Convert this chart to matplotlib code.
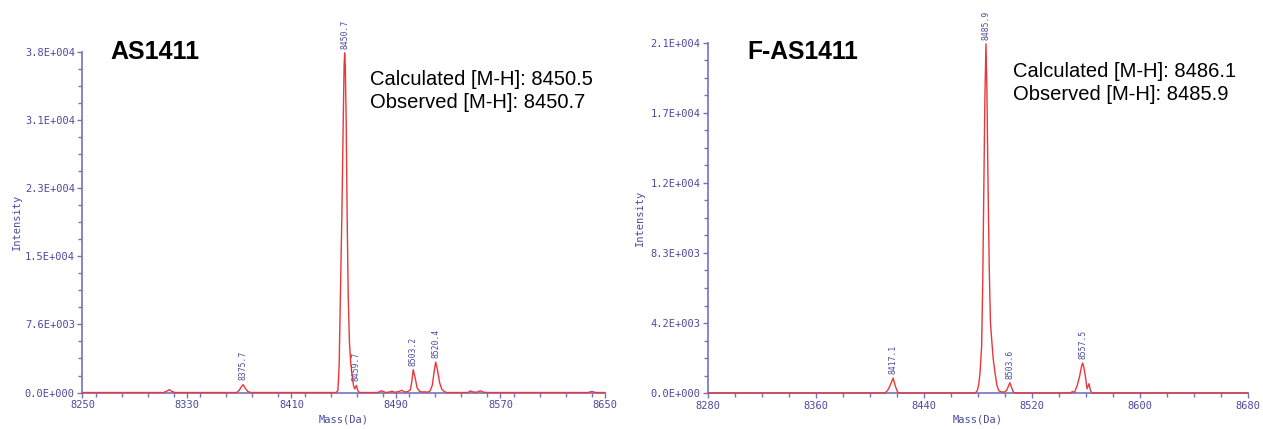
import numpy as np
import matplotlib
matplotlib.use("Agg")
import matplotlib.pyplot as plt
from matplotlib.ticker import FixedLocator, MultipleLocator

# --- data (mass in Da, intensity in counts) ---
as_mass = [8250, 8312, 8314.5, 8316.5, 8318.5, 8321,
           8368, 8370, 8371.5, 8373, 8374.5, 8376.5, 8379,
           8444, 8445.5, 8446.5, 8447.6, 8448.6, 8449.6, 8450.3, 8450.7, 8451.2,
           8451.9, 8452.6, 8453.4, 8454.4, 8455.4, 8456.3, 8457.5, 8458.4, 8459.7,
           8460.8, 8462, 8476, 8479, 8482, 8485, 8487, 8489, 8492, 8494.5, 8496.5,
           8499, 8501, 8502.2, 8503.2, 8504.6, 8506.2, 8508, 8510, 8512, 8514,
           8516, 8517.8, 8519.2, 8520.4, 8521.8, 8523.4, 8525, 8527, 8529,
           8545, 8547, 8549, 8552, 8554.5, 8557, 8560, 8637, 8640, 8643, 8650]
as_int = [0, 0, 150, 320, 120, 0,
          0, 250, 620, 880, 500, 120, 0,
          0, 200, 3000, 12000, 20000, 30000, 36500, 37900, 36500,
          30000, 20000, 11000, 5500, 3200, 2100, 780, 400, 800,
          200, 0, 0, 200, 0, 60, 150, 30, 100, 250, 60,
          100, 300, 1300, 2550, 1700, 500, 150, 60, 80, 40,
          150, 800, 2300, 3400, 2500, 1100, 400, 100, 0,
          0, 180, 60, 40, 200, 40, 0, 0, 120, 0, 0]

fas_mass = [8280, 8411, 8413, 8414.5, 8416, 8417.1, 8418.8, 8420.5, 8422,
            8478, 8479.5, 8480.5, 8481.5, 8482.7, 8483.5, 8484.3, 8485.1, 8485.9,
            8486.6, 8487.4, 8488.3, 8489.2, 8490.3, 8491.3, 8492.6, 8494, 8495.5,
            8497.5, 8499.5, 8501.2, 8502.5, 8503.6, 8504.8, 8506.2, 8508,
            8548, 8550, 8551.5, 8553.5, 8555.3, 8556.6, 8557.5, 8558.5, 8559.7,
            8560.8, 8562.2, 8563.3, 8564.5, 8680]
fas_int = [0, 0, 150, 380, 650, 880, 400, 50, 0,
           0, 150, 480, 1200, 2800, 6500, 12000, 17500, 20700,
           18000, 12500, 7500, 4200, 3000, 2000, 1200, 450, 130,
           60, 60, 150, 400, 610, 350, 50, 0,
           0, 80, 40, 450, 1000, 1550, 1780, 1500, 900,
           250, 550, 150, 0, 0]

# labelled peaks: (label, mass, intensity)
as_peaks = [("8375.7", 8373, 880), ("8450.7", 8450.7, 37900), ("8459.7", 8459.7, 800),
            ("8503.2", 8503.2, 2550), ("8520.4", 8520.4, 3400)]
fas_peaks = [("8417.1", 8417.1, 880), ("8485.9", 8485.9, 20700),
             ("8503.6", 8503.6, 610), ("8557.5", 8557.5, 1780)]

as_yticks = [0, 7600, 15200, 22800, 30400, 38000]
as_ylabels = ["0.0E+000", "7.6E+003", "1.5E+004", "2.3E+004", "3.1E+004", "3.8E+004"]
fas_yticks = [0, 4150, 8300, 12450, 16600, 20750]
fas_ylabels = ["0.0E+000", "4.2E+003", "8.3E+003", "1.2E+004", "1.7E+004", "2.1E+004"]

as_xticks = [8250, 8330, 8410, 8490, 8570, 8650]
fas_xticks = [8280, 8360, 8440, 8520, 8600, 8680]

AXCOL = "#7373bb"
TXTCOL = "#4a4a9e"
LINECOL = "#e8383a"
MONO = "DejaVu Sans Mono"

fig = plt.figure(figsize=(12.63, 4.29), dpi=100)
axL = fig.add_axes([0.0653, 0.085, 0.4137, 0.7938])
axR = fig.add_axes([0.5606, 0.0839, 0.4275, 0.8159])


def style(ax, mass, inten, xticks, yticks, ylabels, ymin_step, peaks):
    ax.plot(mass, inten, color=LINECOL, lw=1.0, clip_on=False, zorder=3)
    ax.set_xlim(xticks[0], xticks[-1])
    ax.set_ylim(0, yticks[-1])
    for s in ["top", "right"]:
        ax.spines[s].set_visible(False)
    for s in ["left", "bottom"]:
        ax.spines[s].set_color(AXCOL)
        ax.spines[s].set_linewidth(1.2)
    ax.xaxis.set_major_locator(FixedLocator(xticks))
    ax.xaxis.set_minor_locator(MultipleLocator(20))
    ax.set_xticklabels([str(t) for t in xticks])
    ax.yaxis.set_major_locator(FixedLocator(yticks))
    ax.yaxis.set_minor_locator(MultipleLocator(ymin_step))
    ax.set_yticklabels(ylabels)
    ax.tick_params(which="both", direction="out", color=AXCOL, labelcolor=TXTCOL,
                   labelsize=7.5, width=1)
    ax.tick_params(which="major", length=3.5, pad=2)
    ax.tick_params(which="minor", length=3)
    for lab in ax.get_xticklabels() + ax.get_yticklabels():
        lab.set_fontfamily(MONO)
    ax.set_xlabel("Mass(Da)", family=MONO, fontsize=7.5, color=TXTCOL, labelpad=3)
    ax.set_ylabel("Intensity", family=MONO, fontsize=7.5, color=TXTCOL)
    for lab, m, h in peaks:
        ax.annotate(lab, xy=(m, h), xytext=(0, 3), textcoords="offset points",
                    rotation=90, ha="center", va="bottom", fontsize=5.8,
                    family=MONO, color=TXTCOL, annotation_clip=False)


style(axL, as_mass, as_int, as_xticks, as_yticks, as_ylabels, 1900, as_peaks)
style(axR, fas_mass, fas_int, fas_xticks, fas_yticks, fas_ylabels, 1037.5, fas_peaks)

axL.yaxis.set_label_coords(-0.116, 0.5)
axR.yaxis.set_label_coords(-0.117, 0.5)

fig.text(110 / 1263, 1 - 52 / 429, "AS1411", family="Liberation Sans", weight="bold",
         fontsize=18, va="center", ha="left")
fig.text(370 / 1263, 1 - 91 / 429, "Calculated [M-H]: 8450.5\nObserved [M-H]: 8450.7",
         family="Liberation Sans", fontsize=14.5, va="center", ha="left", linespacing=1.3)
fig.text(747 / 1263, 1 - 52 / 429, "F-AS1411", family="Liberation Sans", weight="bold",
         fontsize=17.7, va="center", ha="left")
fig.text(1013 / 1263, 1 - 83 / 429, "Calculated [M-H]: 8486.1\nObserved [M-H]: 8485.9",
         family="Liberation Sans", fontsize=14.5, va="center", ha="left", linespacing=1.3)

fig.savefig("out.png", dpi=100)
